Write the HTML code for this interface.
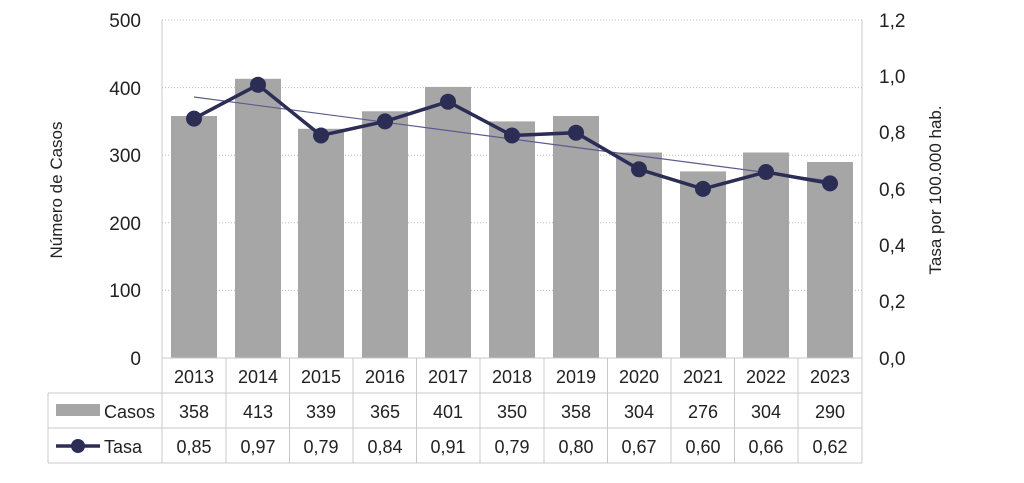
<!DOCTYPE html>
<html><head><meta charset="utf-8"><style>
body{margin:0;background:#fff}
text{font-family:"Liberation Sans",sans-serif;fill:#222}
</style></head><body>
<svg width="1024" height="478" xmlns="http://www.w3.org/2000/svg">
<g stroke="#bbb" stroke-dasharray="1,2" stroke-width="1">
<line x1="162" y1="290.4" x2="862" y2="290.4"/>
<line x1="162" y1="222.8" x2="862" y2="222.8"/>
<line x1="162" y1="155.2" x2="862" y2="155.2"/>
<line x1="162" y1="87.6" x2="862" y2="87.6"/>
<line x1="162" y1="20" x2="862" y2="20"/>
</g>
<g fill="#a6a6a6">
<rect x="171" y="116" width="46" height="242"/>
<rect x="235" y="78.8" width="46" height="279.2"/>
<rect x="298" y="128.8" width="46" height="229.2"/>
<rect x="362" y="111.3" width="46" height="246.7"/>
<rect x="425" y="86.9" width="46" height="271.1"/>
<rect x="489" y="121.4" width="46" height="236.6"/>
<rect x="553" y="116" width="46" height="242"/>
<rect x="616" y="152.5" width="46" height="205.5"/>
<rect x="680" y="171.4" width="46" height="186.6"/>
<rect x="743" y="152.5" width="46" height="205.5"/>
<rect x="807" y="162" width="46" height="196"/>
</g>
<g stroke="#c8c8c8" stroke-width="1" fill="none">
<line x1="162" y1="20" x2="162" y2="463"/>
<line x1="862" y1="20" x2="862" y2="463"/>
<line x1="162" y1="358" x2="862" y2="358"/>
<line x1="48" y1="393" x2="862" y2="393"/>
<line x1="48" y1="428" x2="862" y2="428"/>
<line x1="48" y1="463" x2="862" y2="463"/>
<line x1="48" y1="393" x2="48" y2="463"/>
<line x1="226" y1="358" x2="226" y2="463"/>
<line x1="289.5" y1="358" x2="289.5" y2="463"/>
<line x1="353" y1="358" x2="353" y2="463"/>
<line x1="416.5" y1="358" x2="416.5" y2="463"/>
<line x1="480" y1="358" x2="480" y2="463"/>
<line x1="544" y1="358" x2="544" y2="463"/>
<line x1="607.5" y1="358" x2="607.5" y2="463"/>
<line x1="671" y1="358" x2="671" y2="463"/>
<line x1="734.5" y1="358" x2="734.5" y2="463"/>
<line x1="798" y1="358" x2="798" y2="463"/>
</g>
<line x1="194" y1="97" x2="830" y2="181" stroke="#5b5b8f" stroke-width="1.2"/>
<polyline fill="none" stroke="#2b2d55" stroke-width="3.5" points="194,118.6 258,84.8 321,135.5 385,121.4 448,101.7 512,135.5 576,132.7 639,169.3 703,188.9 766,172 830,183.4"/>
<g fill="#2b2d55">
<circle cx="194" cy="118.6" r="8"/><circle cx="258" cy="84.8" r="8"/><circle cx="321" cy="135.5" r="8"/><circle cx="385" cy="121.4" r="8"/><circle cx="448" cy="101.7" r="8"/><circle cx="512" cy="135.5" r="8"/><circle cx="576" cy="132.7" r="8"/><circle cx="639" cy="169.3" r="8"/><circle cx="703" cy="188.9" r="8"/><circle cx="766" cy="172" r="8"/><circle cx="830" cy="183.4" r="8"/>
</g>
<g font-size="19" text-anchor="end" fill="#111">
<text x="141" y="365">0</text><text x="141" y="297">100</text><text x="141" y="230">200</text><text x="141" y="162">300</text><text x="141" y="95">400</text><text x="141" y="27">500</text>
</g>
<g font-size="19" text-anchor="start">
<text x="879" y="365">0,0</text><text x="879" y="308">0,2</text><text x="879" y="252">0,4</text><text x="879" y="196">0,6</text><text x="879" y="139">0,8</text><text x="879" y="83">1,0</text><text x="879" y="27">1,2</text>
</g>
<text font-size="17" transform="translate(62,190) rotate(-90)" text-anchor="middle">Número de Casos</text>
<text font-size="17" transform="translate(941,190) rotate(-90)" text-anchor="middle">Tasa por 100.000 hab.</text>
<g font-size="18" text-anchor="middle" fill="#333">
<text x="194" y="383">2013</text><text x="258" y="383">2014</text><text x="321" y="383">2015</text><text x="385" y="383">2016</text><text x="448" y="383">2017</text><text x="512" y="383">2018</text><text x="576" y="383">2019</text><text x="639" y="383">2020</text><text x="703" y="383">2021</text><text x="766" y="383">2022</text><text x="830" y="383">2023</text>
<text x="194" y="418">358</text><text x="258" y="418">413</text><text x="321" y="418">339</text><text x="385" y="418">365</text><text x="448" y="418">401</text><text x="512" y="418">350</text><text x="576" y="418">358</text><text x="639" y="418">304</text><text x="703" y="418">276</text><text x="766" y="418">304</text><text x="830" y="418">290</text>
<text x="194" y="453">0,85</text><text x="258" y="453">0,97</text><text x="321" y="453">0,79</text><text x="385" y="453">0,84</text><text x="448" y="453">0,91</text><text x="512" y="453">0,79</text><text x="576" y="453">0,80</text><text x="639" y="453">0,67</text><text x="703" y="453">0,60</text><text x="766" y="453">0,66</text><text x="830" y="453">0,62</text>
</g>
<rect x="56" y="404" width="44" height="12" fill="#a6a6a6"/>
<text x="104" y="418" font-size="18">Casos</text>
<line x1="56" y1="446" x2="100" y2="446" stroke="#2b2d55" stroke-width="3.5"/>
<circle cx="78" cy="446" r="7" fill="#2b2d55"/>
<text x="104" y="453" font-size="18">Tasa</text>
</svg>
</body></html>
